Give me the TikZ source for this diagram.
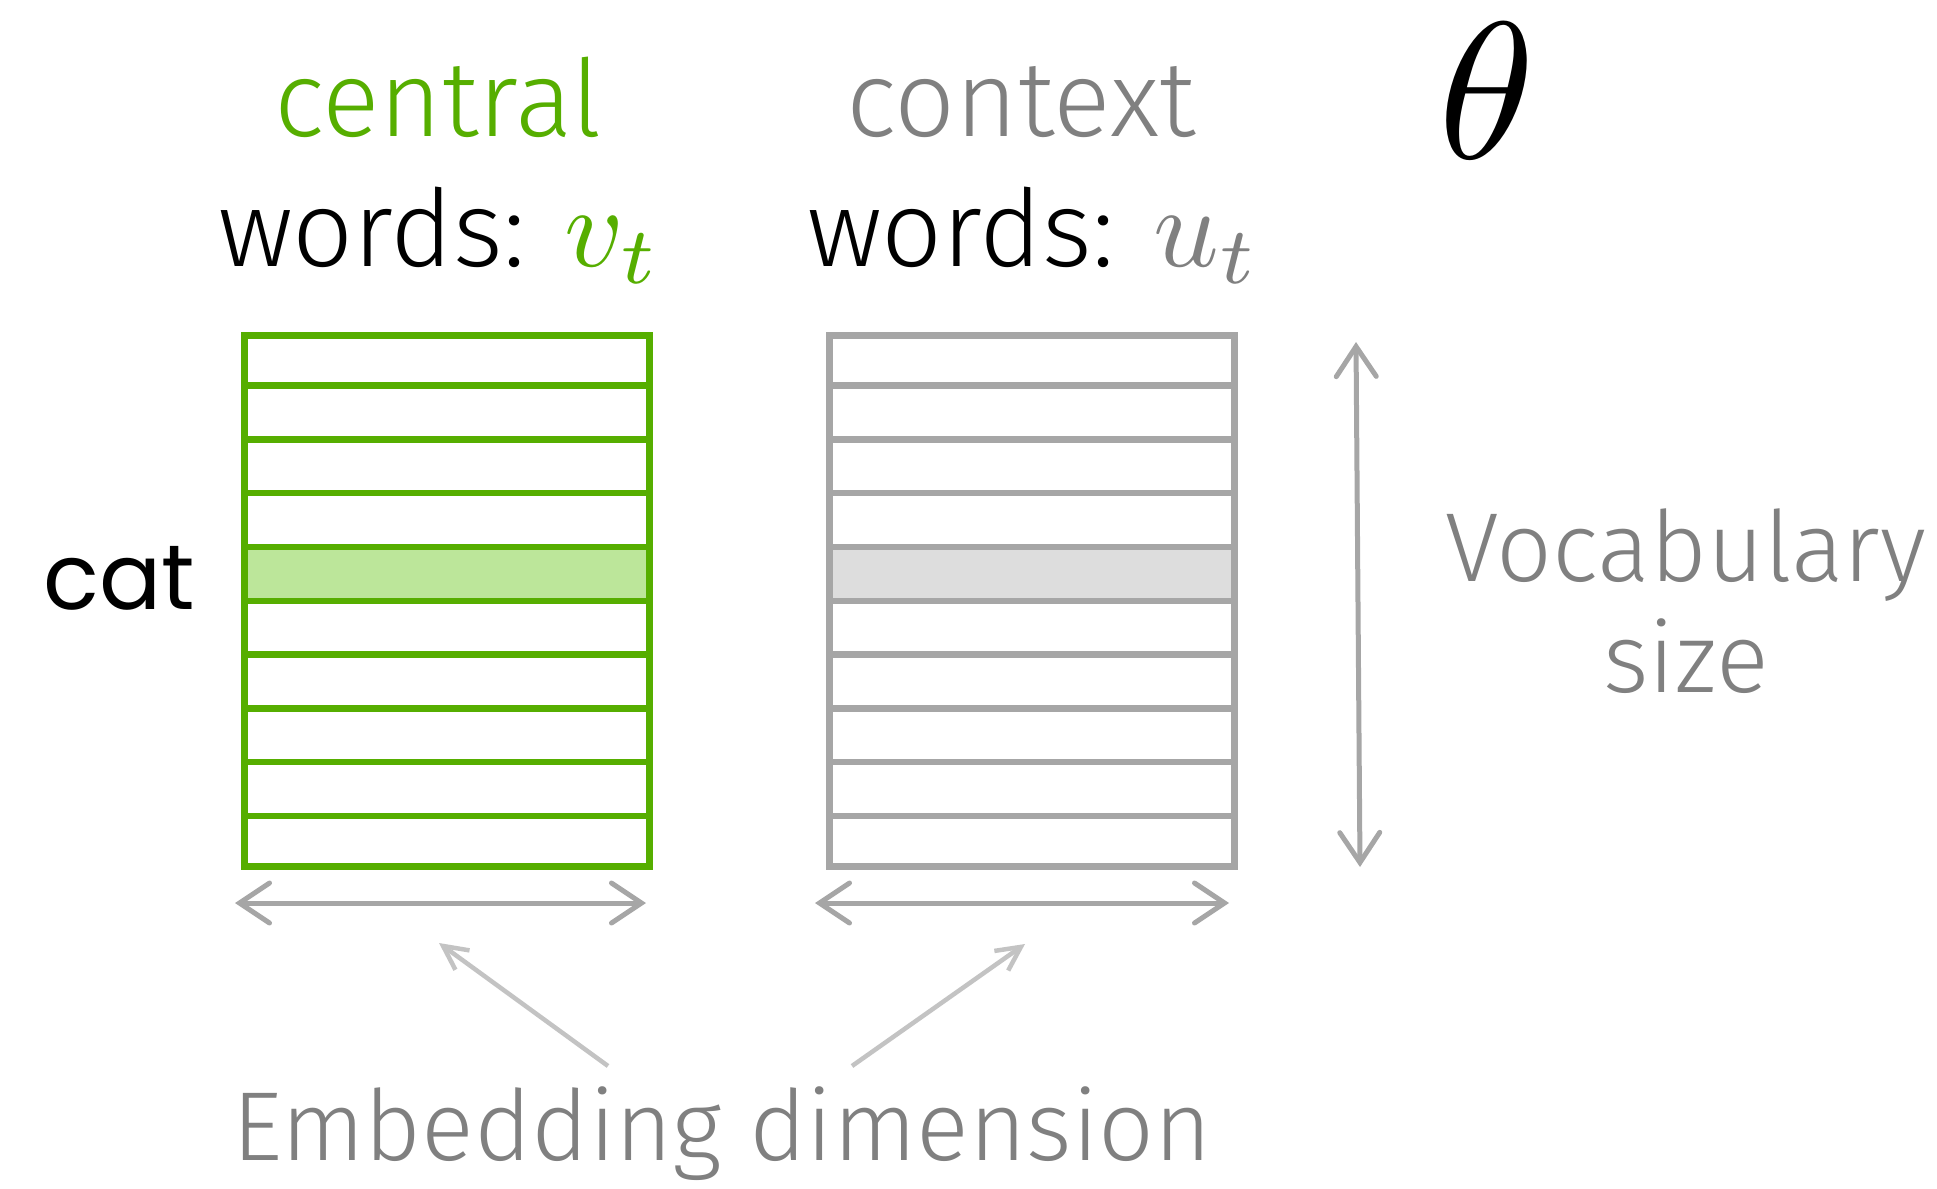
\documentclass[tikz,border=0pt]{standalone}
\usepackage{fontspec}
\setmainfont{Fira Sans Light}
\newfontfamily\handfont{Poppins}
\usetikzlibrary{arrows.meta,calc}

\definecolor{leafgreen}{HTML}{56AE00}
\definecolor{leaffill}{HTML}{BCE69A}
\definecolor{boxgray}{HTML}{A6A6A6}
\definecolor{rowgray}{HTML}{DDDDDD}
\definecolor{labelgray}{HTML}{808080}
\definecolor{pointergray}{HTML}{C3C3C3}

% math symbols set at 10pt and enlarged
\newcommand{\bigmath}[2]{{\fontsize{10}{12}\selectfont\scalebox{#1}{$#2$}}}

\begin{document}
\begin{tikzpicture}[x=1pt,y=-1pt,
  bigtext/.style={inner sep=0pt, anchor=base west, font=\fontsize{107}{120}\selectfont},
  labeltext/.style={inner sep=0pt, text=labelgray, font=\fontsize{98}{110}\selectfont},
  matframe/.style={draw, line width=6.5pt, inner sep=0pt, minimum width=405pt,
                   minimum height=531pt, anchor=north west},
  rowline/.style={line width=6.5pt},
  span/.style={draw=boxgray, line width=5pt, line cap=round,
    {Straight Barb[length=30pt,width=40pt,line cap=round]}-{Straight Barb[length=30pt,width=40pt,line cap=round]}},
  pointer/.style={draw=pointergray, line width=4.5pt,
    -{Straight Barb[length=24pt,width=24pt]}}
]
\useasboundingbox (0,0) rectangle (1937,1188);

% highlighted rows (drawn under the frames)
\fill[leaffill] (241,{332+4*53.1}) rectangle (646,{332+5*53.1});
\fill[rowgray]  (826,{332+4*53.1}) rectangle (1232,{332+5*53.1});

% embedding matrices
\node[matframe, draw=leafgreen] (vmat) at (241,332) {};
\node[matframe, draw=boxgray]   (umat) at (826,332) {};
\foreach \i in {1,...,9} {
  \draw[rowline, leafgreen] ($(vmat.north west)!\i/10!(vmat.south west)$) -- ($(vmat.north east)!\i/10!(vmat.south east)$);
  \draw[rowline, boxgray]   ($(umat.north west)!\i/10!(umat.south west)$) -- ($(umat.north east)!\i/10!(umat.south east)$);
}

% headings
\node[bigtext, text=leafgreen] (central) at (274,136) {central};
\node[bigtext] (wordsv) at (218,266) {words: \textcolor{leafgreen}{\bigmath{11.5}{v_t}}};
\node[bigtext, text=labelgray] (context) at (846,136) {context};
\node[bigtext] (wordsu) at (807,266) {words: \textcolor{labelgray}{\bigmath{11.5}{u_t}}};
\node[inner sep=0pt, anchor=base west] (theta) at (1438,158) {\bigmath{19.5}{\theta}};

% row label
\node[inner sep=0pt, anchor=base west, font=\handfont\fontsize{92}{100}\selectfont] (cat) at (43,609) {cat};

% dimension arrows
\coordinate (vl) at (235,903);
\coordinate (vr) at (646,903);
\coordinate (ul) at (815,903);
\coordinate (ur) at (1229,903);
\coordinate (vtop) at (1356,342);
\coordinate (vbot) at (1360,867);
\draw[span] (vl) -- (vr);
\draw[span] (ul) -- (ur);
\draw[span] (vtop) -- (vbot);

\node[labeltext, anchor=base] (vocab) at (1686,581) {Vocabulary};
\node[labeltext, anchor=base] (size) at (1686,692) {size};

% embedding dimension label and pointers
\node[labeltext, anchor=base west] (emb) at (232,1160) {Embedding dimension};
\coordinate (pl0) at (608,1066);
\coordinate (pl1) at (439,943);
\coordinate (pr0) at (852,1066);
\coordinate (pr1) at (1025,944);
\draw[pointer] (pl0) -- (pl1);
\draw[pointer] (pr0) -- (pr1);
\end{tikzpicture}
\end{document}
